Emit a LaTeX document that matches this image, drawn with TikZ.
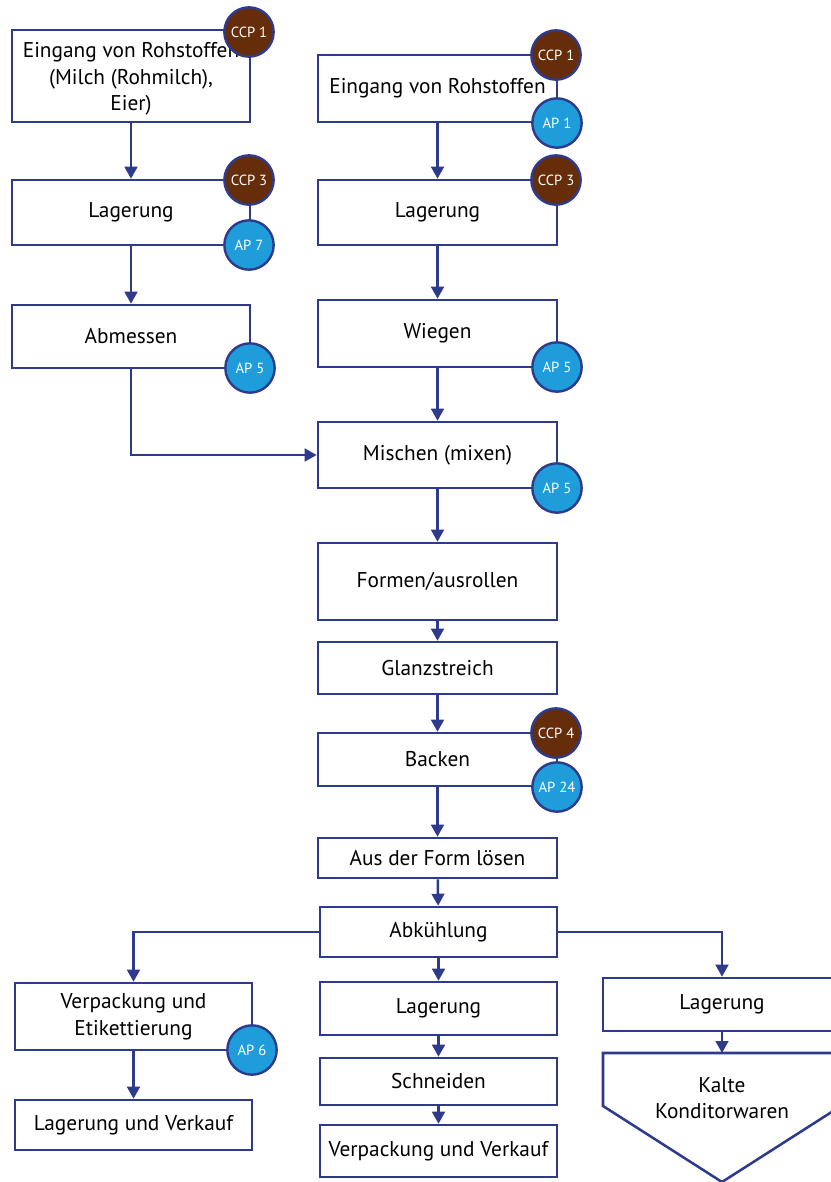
\documentclass[tikz,border=0pt]{standalone}
\usepackage{fontspec}
\setmainfont{PT Sans}
\usetikzlibrary{arrows.meta}
\definecolor{navy}{HTML}{2E3A8C}
\definecolor{ccpbrown}{HTML}{652D0A}
\definecolor{apblue}{HTML}{1E9DDA}
\tikzset{
  box/.style 2 args={draw=navy, line width=1.9pt, fill=white, inner sep=0pt, align=center,
    minimum width=#1*0.75pt, minimum height=#2*0.75pt,
    font=\fontsize{16}{20}\selectfont},
  badge/.style={circle, draw=navy, line width=1.8pt, minimum size=37pt, inner sep=0pt,
    text=white, font=\fontsize{11}{12}\selectfont},
  ccp/.style={badge, fill=ccpbrown},
  ap/.style={badge, fill=apblue},
  flow/.style={draw=navy, line width=1.9pt, -{Triangle[length=9pt,width=9.5pt]}},
  plain/.style={draw=navy, line width=1.9pt},
  lbl/.style={inner sep=0pt, align=center, font=\fontsize{16}{20}\selectfont}
}
\begin{document}
\begin{tikzpicture}[x=0.75pt,y=-0.75pt]
\useasboundingbox (0,0) rectangle (831,1182);
\clip (0,0) rectangle (831,1182);
% left column
\node[box={238}{92}] (l1) at (131,76) {};
\node[lbl] (l1t) at (131,79) {Eingang von Rohstoffen\\(Milch (Rohmilch),\\Eier)};
\node[box={238}{65}] (l2) at (131,212.5) {Lagerung};
\node[box={238}{63}] (l3) at (131,336.5) {Abmessen};
% right column
\node[box={239}{67}] (r1) at (437.5,88.5) {Eingang von Rohstoffen};
\node[box={239}{65}] (r2) at (437.5,212.5) {Lagerung};
\node[box={239}{67}] (r3) at (437.5,333.5) {Wiegen};
\node[box={239}{66}] (r4) at (437.5,455) {Mischen (mixen)};
\node[box={239}{77}] (r5) at (437.5,581.5) {Formen/ausrollen};
\node[box={239}{52}] (r6) at (437.5,668) {Glanzstreich};
\node[box={239}{53}] (r7) at (437.5,759.5) {Backen};
\node[box={239}{40}] (r8) at (437.5,858) {Aus der Form lösen};
\node[box={237}{50}] (r9) at (438.5,932) {Abkühlung};
% bottom branches
\node[box={237}{67}] (b1) at (133.5,1016.5) {Verpackung und\\Etikettierung};
\node[box={237}{50}] (b2) at (133.5,1125) {Lagerung und Verkauf};
\node[box={237}{53}] (m1) at (438.5,1008.5) {Lagerung};
\node[box={237}{47}] (m2) at (438.5,1081.5) {Schneiden};
\node[box={237}{52}] (m3) at (438.5,1151) {Verpackung und Verkauf};
\node[box={238}{53}] (k1) at (722,1004.5) {Lagerung};
\coordinate (kt) at (722,1053);
\draw[plain, fill=white] (603,1053) -- (841,1053) -- (841,1106) -- (722,1182) -- (603,1106) -- cycle;
\node[lbl] (k2) at (722,1098) {Kalte\\Konditorwaren};
% connectors
\draw[flow] (l1) -- (l2);
\draw[flow] (l2) -- (l3);
\draw[flow] (l3.south) |- (r4.west);
\draw[flow] (r1) -- (r2);
\draw[flow] (r2) -- (r3);
\draw[flow] (r3) -- (r4);
\draw[flow] (r4) -- (r5);
\draw[flow] (r5) -- (r6);
\draw[flow] (r6) -- (r7);
\draw[flow] (r7) -- (r8);
\draw[flow] (r8) -- (r9);
\draw[flow] (r9.west) -| (b1.north);
\draw[flow] (r9.south) -- (m1.north);
\draw[flow] (r9.east) -| (k1.north);
\draw[flow] (b1) -- (b2);
\draw[flow] (m1) -- (m2);
\draw[flow] (m2) -- (m3);
\draw[flow] (k1.south) -- (kt);
% badges
\node[ccp] (c1) at (249,32) {CCP 1};
\node[ccp] (c2) at (249,180) {CCP 3};
\node[ap]  (a1) at (249,245) {AP 7};
\node[ap]  (a2) at (250,368) {AP 5};
\node[ccp] (c3) at (556,55) {CCP 1};
\node[ap]  (a3) at (557,123) {AP 1};
\node[ccp] (c4) at (556,180) {CCP 3};
\node[ap]  (a4) at (557,367) {AP 5};
\node[ap]  (a5) at (557,488) {AP 5};
\node[ccp] (c5) at (556,733) {CCP 4};
\node[ap]  (a6) at (557,787) {AP 24};
\node[ap]  (a7) at (252,1050) {AP 6};
\end{tikzpicture}
\end{document}
